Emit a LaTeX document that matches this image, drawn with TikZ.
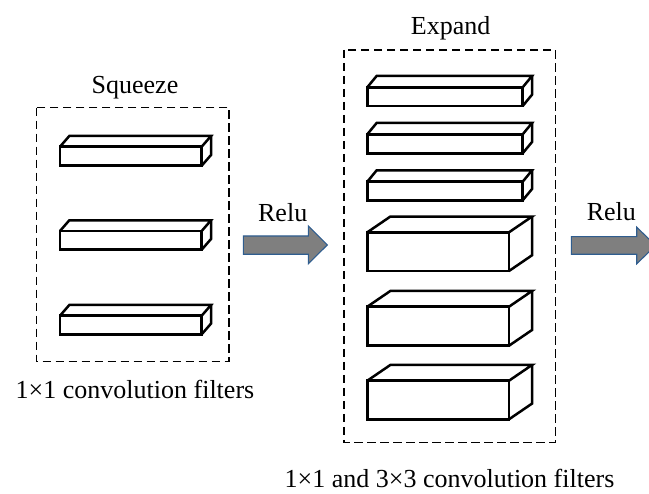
\documentclass[tikz,border=0pt]{standalone}
\usepackage{fontspec}
\setmainfont{Liberation Serif}
\definecolor{arrfill}{HTML}{7F7F7F}
\definecolor{arrline}{HTML}{2F5D8F}
\newcommand\mycuboid[6]{%
  \draw[cubeline] (#1,#2) rectangle (#3,#4);
  \draw[cubeline] (#1,#2) -- ++(#5,-#6) -- ($(#3,#2)+(#5,-#6)$) -- (#3,#2);
  \draw[cubeline] ($(#3,#2)+(#5,-#6)$) -- ($(#3,#4)+(#5,-#6)$) -- (#3,#4);
}
\begin{document}
\begin{tikzpicture}[x=1pt,y=-1pt,
  cubeline/.style={line width=2.5pt,black},
  groupbox/.style={draw,line width=1.5pt,dash pattern=on 8.5pt off 4.5pt},
  lbl/.style={font=\fontsize{26}{31}\selectfont,inner sep=0pt,anchor=base},
  blockarrow/.style={fill=arrfill,draw=arrline,line width=1.1pt,line join=miter}]
\useasboundingbox (0,0) rectangle (649,494);
\usetikzlibrary{calc}
% Squeeze group
\draw[groupbox] (36.7,107.7) rectangle (229,361.7);
\node[lbl] (squeeze) at (135,93.3) {Squeeze};
\mycuboid{60}{146.7}{201.7}{165.7}{9.3}{10.7}
\mycuboid{60}{231}{201.7}{249.7}{9.3}{10.7}
\mycuboid{60}{315.7}{201.7}{334.3}{9.3}{10.7}
\node[lbl] (sqcap) at (135,398.3) {1×1 convolution filters};
% Relu arrow 1
\node[lbl] (relu1) at (282.7,221.7) {Relu};
\draw[blockarrow] (243.3,236) -- (308.3,236) -- (308.3,226) -- (327.3,245)
  -- (308.3,263.7) -- (308.3,254.3) -- (243.3,254.3) -- cycle;
% Expand group
\draw[groupbox] (344,50) rectangle (555.3,442.7);
\node[lbl] (expand) at (450.7,35) {Expand};
\mycuboid{367.3}{87.3}{522.7}{106}{9.3}{11.3}
\mycuboid{367.3}{134.3}{522.7}{153.3}{9.3}{11.3}
\mycuboid{367.3}{181.7}{522.7}{200.3}{9.3}{11.3}
\mycuboid{367.3}{232.3}{509}{271}{23}{15.7}
\mycuboid{367.3}{306.7}{509}{345.7}{23}{15.7}
\mycuboid{367.3}{380.7}{509}{419.3}{23}{15.7}
\node[lbl] (excap) at (449.5,488) {1×1 and 3×3 convolution filters};
% Relu arrow 2
\node[lbl] (relu2) at (611.3,220.7) {Relu};
\draw[blockarrow] (571.3,236.7) -- (636.7,236.7) -- (636.7,227.2) -- (655.7,245.5)
  -- (636.7,263.8) -- (636.7,254.3) -- (571.3,254.3) -- cycle;
\end{tikzpicture}
\end{document}
